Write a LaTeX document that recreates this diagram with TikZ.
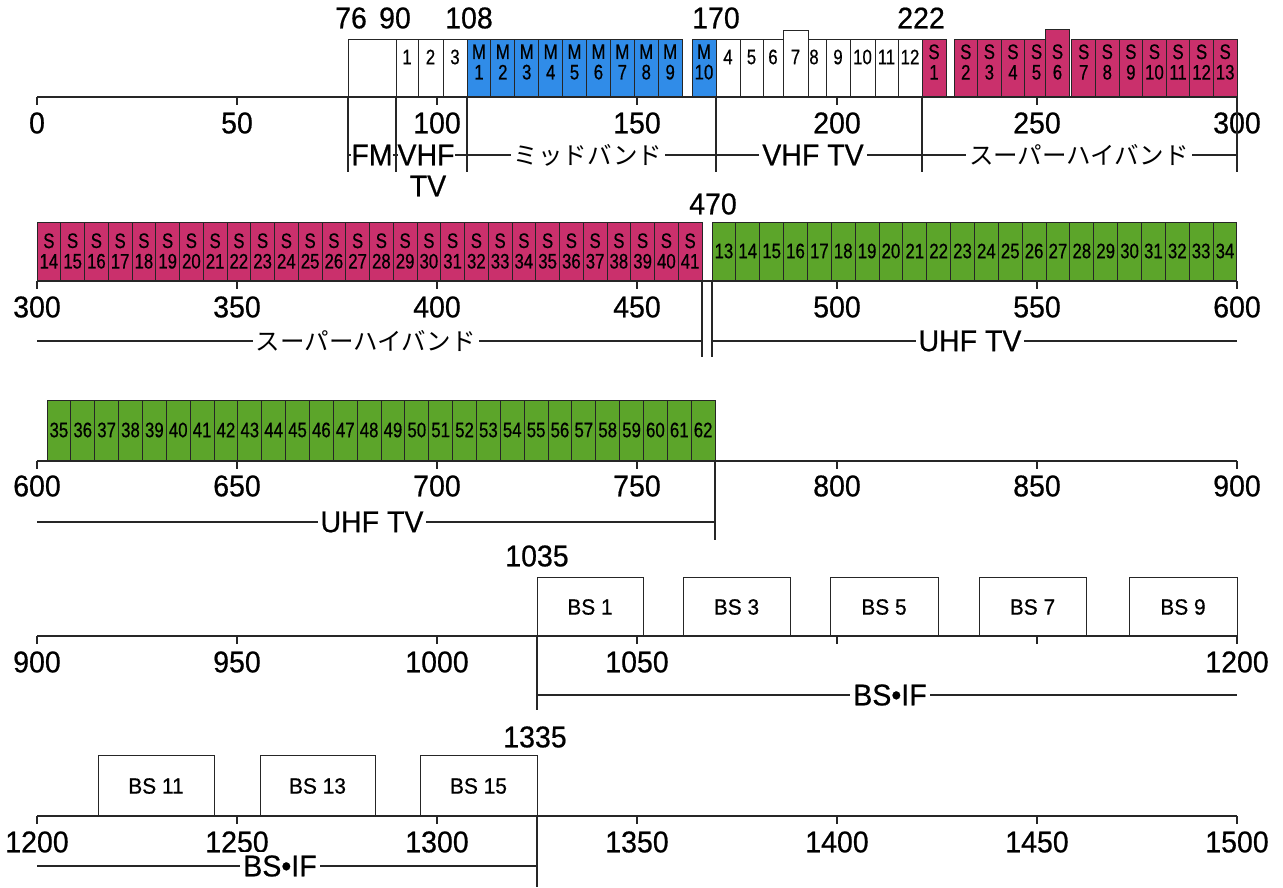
\documentclass[tikz,border=0pt]{standalone}
\usepackage{fontspec}
\setmainfont{Liberation Sans}[FakeStretch=0.95,FakeBold=0.6]
\newfontfamily\nar{Liberation Sans}[FakeStretch=0.8,FakeBold=0.5]
\newfontfamily\jp{Noto Sans CJK JP}
\definecolor{mblue}{RGB}{48,140,232}
\definecolor{spink}{RGB}{202,48,108}
\definecolor{ugreen}{RGB}{92,165,42}
\newcommand\chbox[5]{% name, x0, x1, fill, text
  \pgfmathsetmacro\bw{#3-#2}\pgfmathsetmacro\bh{\rbot-\rtop}%
  \node[chb, fill=#4, minimum width=\bw pt, minimum height=\bh pt] (#1) at (#2,\rbot) {};
  \node[chl] (#1t) at ({(#2+#3)/2},\rtxt) {#5};}
\begin{document}
\begin{tikzpicture}[x=1pt,y=-1pt,line width=1pt,
  chb/.style={draw=black!85, line width=0.9pt, inner sep=0pt, outer sep=0pt, anchor=south west},
  chl/.style={inner sep=0pt, align=center, font=\nar\fontsize{21}{20.5}\selectfont},
  bsl/.style={inner sep=0pt, font=\fontsize{22}{22}\selectfont},
  tk/.style={inner sep=0pt, font=\fontsize{30}{30}\selectfont},
  bandl/.style={fill=white, inner sep=3pt, font=\fontsize{30}{30}\selectfont},
  bandj/.style={fill=white, inner sep=3pt, font=\jp\fontsize{24.5}{24.5}\selectfont},
  ax/.style={line width=1.1pt, black!85},
]
\useasboundingbox (0,0) rectangle (1283,887);
\fill[white] (0,0) rectangle (1283,887);

% ---------------- Row 1 ----------------
\def\rtop{39}\def\rbot{97}
\def\rtxt{57}
\chbox{fm}{348}{396}{white}{}
\chbox{c1}{396}{418}{white}{1}
\chbox{c2}{418}{443}{white}{2}
\chbox{c3}{443}{467}{white}{3}
\foreach \n/\a/\b in {4/716/740,5/740/763,6/763/783,8/802/826,9/826/850,10/850/875,11/875/898,12/898/922}{
  \chbox{c\n}{\a}{\b}{white}{\n}}
\begingroup\def\rtop{30}\chbox{c7}{783}{808}{white}{}\endgroup
\node[chl] (c7t) at (795.5,57) {7};
\def\rtxt{62}
\foreach \i in {1,...,9}{
  \pgfmathsetmacro\xa{467+(\i-1)*23.9}\pgfmathsetmacro\xb{\xa+23.9}
  \chbox{m\i}{\xa}{\xb}{mblue}{M\\\i}}
\chbox{m10}{692}{716}{mblue}{M\\10}
\chbox{s1}{922}{946}{spink}{S\\1}
\foreach \i in {2,3,4,5,7,8,9,10,11,12,13}{
  \pgfmathsetmacro\xa{954+(\i-2)*23.58}\pgfmathsetmacro\xb{\xa+23.58}
  \chbox{s\i}{\xa}{\xb}{spink}{S\\\i}}
\begingroup\def\rtop{29}\chbox{s6}{1045}{1069}{spink}{}\endgroup
\node[chl] (s6t) at (1057.5,62) {S\\6};

\draw[ax] (37,97) coordinate (a1s) -- (1237,97) coordinate (a1e);
\foreach \k/\v in {0/0,1/50,2/100,3/150,4/200,5/250,6/300}{
  \draw[ax] (37+200*\k,97) -- ++(0,8);
  \node[tk] (t1-\k) at (37+200*\k,123) {\v};}
\node[tk] (f76) at (351,18) {76};
\node[tk] (f90) at (395,18) {90};
\node[tk] (f108) at (469,18) {108};
\node[tk] (f170) at (716,18) {170};
\node[tk] (f222) at (921,18) {222};

\foreach \x in {348,396,467,716,922,1237}{\draw[ax] (\x,97) -- (\x,172);}
\draw[ax] (348,155) coordinate (b1s) -- (1237,155) coordinate (b1e);
\node[bandl,inner sep=0pt] (bfm) at (372,155) {FM};
\node[bandl,inner sep=0pt] (bvhf) at (426,155) {VHF};
\node[bandl,inner sep=0pt] (bvtv) at (428,186) {TV};
\node[bandj] (bmid) at (588,155) {ミッドバンド};
\node[bandl] (bvhftv) at (813,155) {VHF TV};
\node[bandj] (bsh1) at (1079,155) {スーパーハイバンド};

% ---------------- Row 2 ----------------
\def\rtop{222}\def\rbot{281}\def\rtxt{251}
\foreach \i in {14,...,41}{
  \pgfmathsetmacro\xa{37+(\i-14)*23.75}\pgfmathsetmacro\xb{\xa+23.75}
  \chbox{s\i}{\xa}{\xb}{spink}{S\\\i}}
\foreach \i in {13,...,34}{
  \pgfmathsetmacro\xa{712+(\i-13)*23.86}\pgfmathsetmacro\xb{\xa+23.86}
  \chbox{u\i}{\xa}{\xb}{ugreen}{\i}}
\draw[ax] (37,281) coordinate (a2s) -- (1237,281) coordinate (a2e);
\foreach \k/\v in {0/300,1/350,2/400,3/450,4/500,5/550,6/600}{
  \draw[ax] (37+200*\k,281) -- ++(0,8);
  \node[tk] (t2-\k) at (37+200*\k,307) {\v};}
\node[tk] (f470) at (713,204) {470};
\draw[ax] (702,281) -- (702,357);
\draw[ax] (712,281) -- (712,357);
\draw[ax] (37,341) coordinate (b2s) -- (702,341) coordinate (b2e);
\draw[ax] (712,341) coordinate (b3s) -- (1237,341) coordinate (b3e);
\node[bandj] (bsh2) at (366,341) {スーパーハイバンド};
\node[bandl] (buhf1) at (970,341) {UHF TV};

% ---------------- Row 3 ----------------
\def\rtop{400}\def\rbot{461}\def\rtxt{430}
\foreach \i in {35,...,62}{
  \pgfmathsetmacro\xa{47+(\i-35)*23.86}\pgfmathsetmacro\xb{\xa+23.86}
  \chbox{u\i}{\xa}{\xb}{ugreen}{\i}}
\draw[ax] (37,461) coordinate (a3s) -- (1237,461) coordinate (a3e);
\foreach \k/\v in {0/600,1/650,2/700,3/750,4/800,5/850,6/900}{
  \draw[ax] (37+200*\k,461) -- ++(0,8);
  \node[tk] (t3-\k) at (37+200*\k,486) {\v};}
\draw[ax] (715,461) -- (715,540);
\draw[ax] (37,522) coordinate (b4s) -- (715,522) coordinate (b4e);
\node[bandl] (buhf2) at (372,522) {UHF TV};

% ---------------- Row 4 ----------------
\def\rtop{577}\def\rbot{636}\def\rtxt{607}
\foreach \n/\a/\b in {1/537/643,3/683/790,5/830/938,7/979/1086,9/1129/1237}{
  \chbox{bs\n}{\a}{\b}{white}{}
  \node[bsl] (bs\n l) at ({(\a+\b)/2},607) {BS \n};}
\draw[ax] (37,636) coordinate (a4s) -- (1237,636) coordinate (a4e);
\foreach \k in {0,...,6}{\draw[ax] (37+200*\k,636) -- ++(0,8);}
\foreach \k/\v in {0/900,1/950,2/1000,3/1050,6/1200}{
  \node[tk] (t4-\k) at (37+200*\k,662) {\v};}
\node[tk] (f1035) at (537,556) {1035};
\draw[ax] (537,636) -- (537,710);
\draw[ax] (537,695) coordinate (b5s) -- (1237,695) coordinate (b5e);
\node[bandl] (bif1) at (890,695) {BS•IF};

% ---------------- Row 5 ----------------
\def\rtop{755}\def\rbot{816}
\foreach \n/\a/\b in {11/98/214,13/260/375,15/420/537}{
  \chbox{bs\n}{\a}{\b}{white}{}
  \node[bsl] (bs\n l) at ({(\a+\b)/2},786) {BS \n};}
\draw[ax] (37,816) coordinate (a5s) -- (1237,816) coordinate (a5e);
\foreach \k/\v in {0/1200,1/1250,2/1300,3/1350,4/1400,5/1450,6/1500}{
  \draw[ax] (37+200*\k,816) -- ++(0,8);
  \node[tk] (t5-\k) at (37+200*\k,842) {\v};}
\node[tk] (f1335) at (535,737) {1335};
\draw[ax] (537,816) -- (537,887);
\draw[ax] (37,866) coordinate (b6s) -- (537,866) coordinate (b6e);
\node[bandl] (bif2) at (280,866) {BS•IF};
\end{tikzpicture}
\end{document}
